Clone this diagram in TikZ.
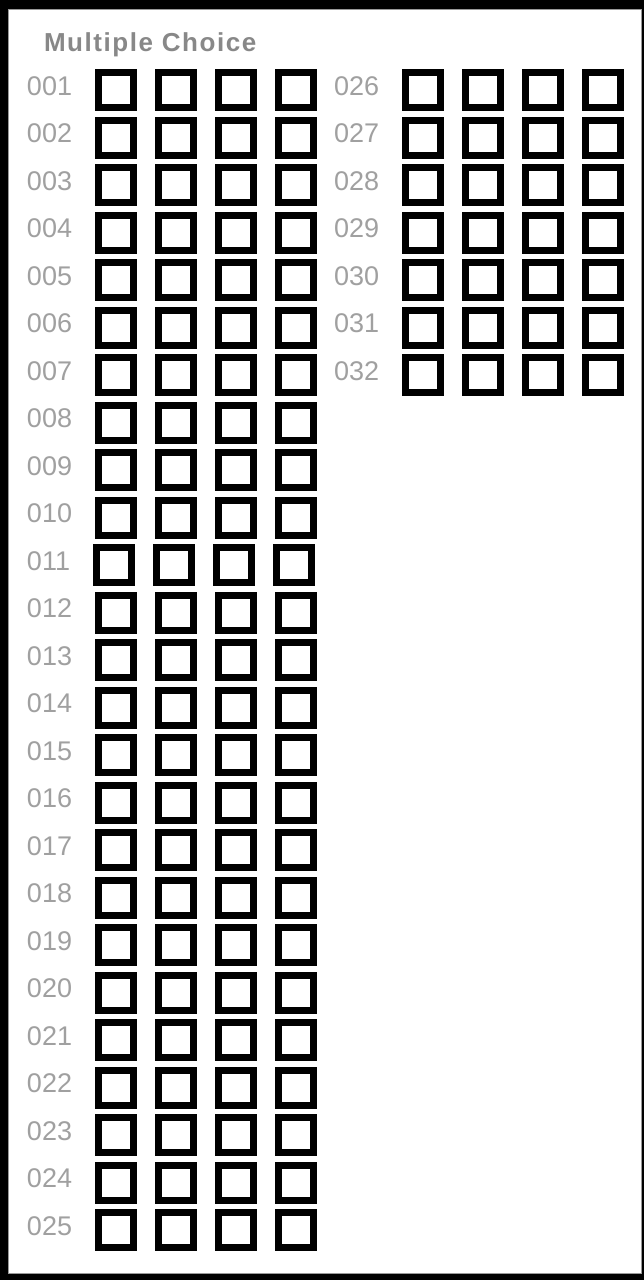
\documentclass[tikz,border=0pt]{standalone}
\usepackage{fontspec}
\setmainfont{Liberation Sans}
\definecolor{numgray}{HTML}{A0A0A0}
\definecolor{ttlgray}{HTML}{888888}
\begin{document}
\begin{tikzpicture}[x=1pt,y=-1pt,
  cb/.style={draw=black, line width=7pt, minimum size=35pt, inner sep=0pt, outer sep=0pt, fill=white, rectangle},
  lbl/.style={anchor=base west, inner sep=0pt, outer sep=0pt, text=numgray, font=\fontsize{27}{27}\selectfont},
  ttl/.style={anchor=base west, inner sep=0pt, outer sep=0pt, text=ttlgray, font=\bfseries\fontsize{26}{26}\selectfont\addfontfeature{LetterSpace=6}}]
\useasboundingbox (0,0) rectangle (644,1280);
\fill[black] (0,0) rectangle (644,1280);
\filldraw[fill=white, draw=black!40, line width=1pt] (8.5,9.5) rectangle (641.5,1273.5);
\node[ttl] (title) at (44,51.7) {Multiple Choice};
\foreach \i in {1,...,25}{
  \pgfmathsetmacro\yy{90+47.5*(\i-1)}
  \pgfmathsetmacro\dx{\i==11 ? -2 : 0}
  \node[lbl] (l\i) at (27,\yy+5) {\ifnum\i<10 00\else 0\fi\i};
  \foreach \j in {1,...,4}{
    \node[cb] (b\i-\j) at ({116+60*(\j-1)+\dx},\yy) {};
  }
}
\foreach \i in {26,...,32}{
  \pgfmathsetmacro\yy{90+47.5*(\i-26)}
  \node[lbl] (l\i) at (334,\yy+5) {0\i};
  \foreach \j in {1,...,4}{
    \node[cb] (b\i-\j) at ({423+60*(\j-1)},\yy) {};
  }
}
\end{tikzpicture}
\end{document}
